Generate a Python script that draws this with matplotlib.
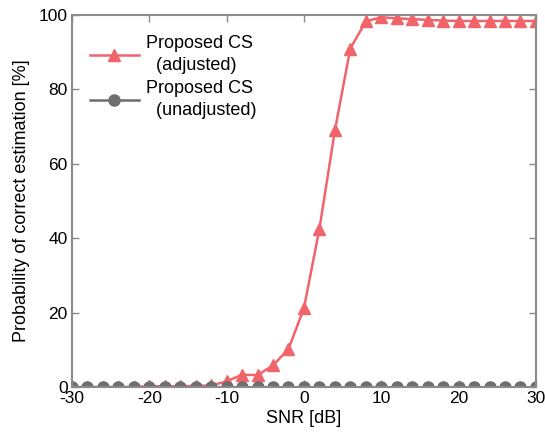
import numpy as np
import matplotlib.pyplot as plt

plt.rcParams['font.family'] = ['Liberation Sans', 'DejaVu Sans']
plt.rcParams['axes.unicode_minus'] = False

snr = np.arange(-30, 31, 2)
adjusted = [0, 0, 0, 0, 0, 0.2, 0.2, 0.2, 0.3, 0.4, 1.5, 3.3, 3.2, 5.8, 10.2,
            21.2, 42.5, 69.0, 91.0, 98.3, 99.4, 99.1, 98.9, 98.7, 98.5, 98.4,
            98.4, 98.4, 98.4, 98.4, 98.4]
unadjusted = [0] * 31

red = "#f0646a"
gray = "#6e6e6e"
axc = "#8a8a8a"

fig = plt.figure(figsize=(5.45, 4.32), dpi=100)
ax = fig.add_axes([0.132, 0.1042, 0.8514, 0.861])
ax.plot(snr, adjusted, "-^", color=red, lw=1.8, ms=9,
        label="Proposed CS\n  (adjusted)")
ax.plot(snr, unadjusted, "-o", color=gray, lw=1.8, ms=8,
        label="Proposed CS\n  (unadjusted)")

ax.set_xlim(-30, 30)
ax.set_ylim(0, 100)
ax.set_xticks(np.arange(-30, 31, 10))
ax.set_yticks(np.arange(0, 101, 20))
ax.tick_params(direction="in", top=True, right=True, labelsize=12.5,
               color=axc, length=5, width=1, pad=3)
for s in ax.spines.values():
    s.set_color(axc)
    s.set_linewidth(1.5)
ax.set_xlabel("SNR [dB]", fontsize=13, labelpad=3)
ax.set_ylabel("Probability of correct estimation [%]", fontsize=13, labelpad=6)

leg = ax.legend(loc="upper left", frameon=False, fontsize=13, handlelength=2.7,
                borderpad=0, borderaxespad=0, labelspacing=0.35,
                handletextpad=0.4, bbox_to_anchor=(0.039, 0.945))
for t in leg.get_texts():
    t.set_linespacing(1.35)

fig.savefig("out.png", dpi=100)
